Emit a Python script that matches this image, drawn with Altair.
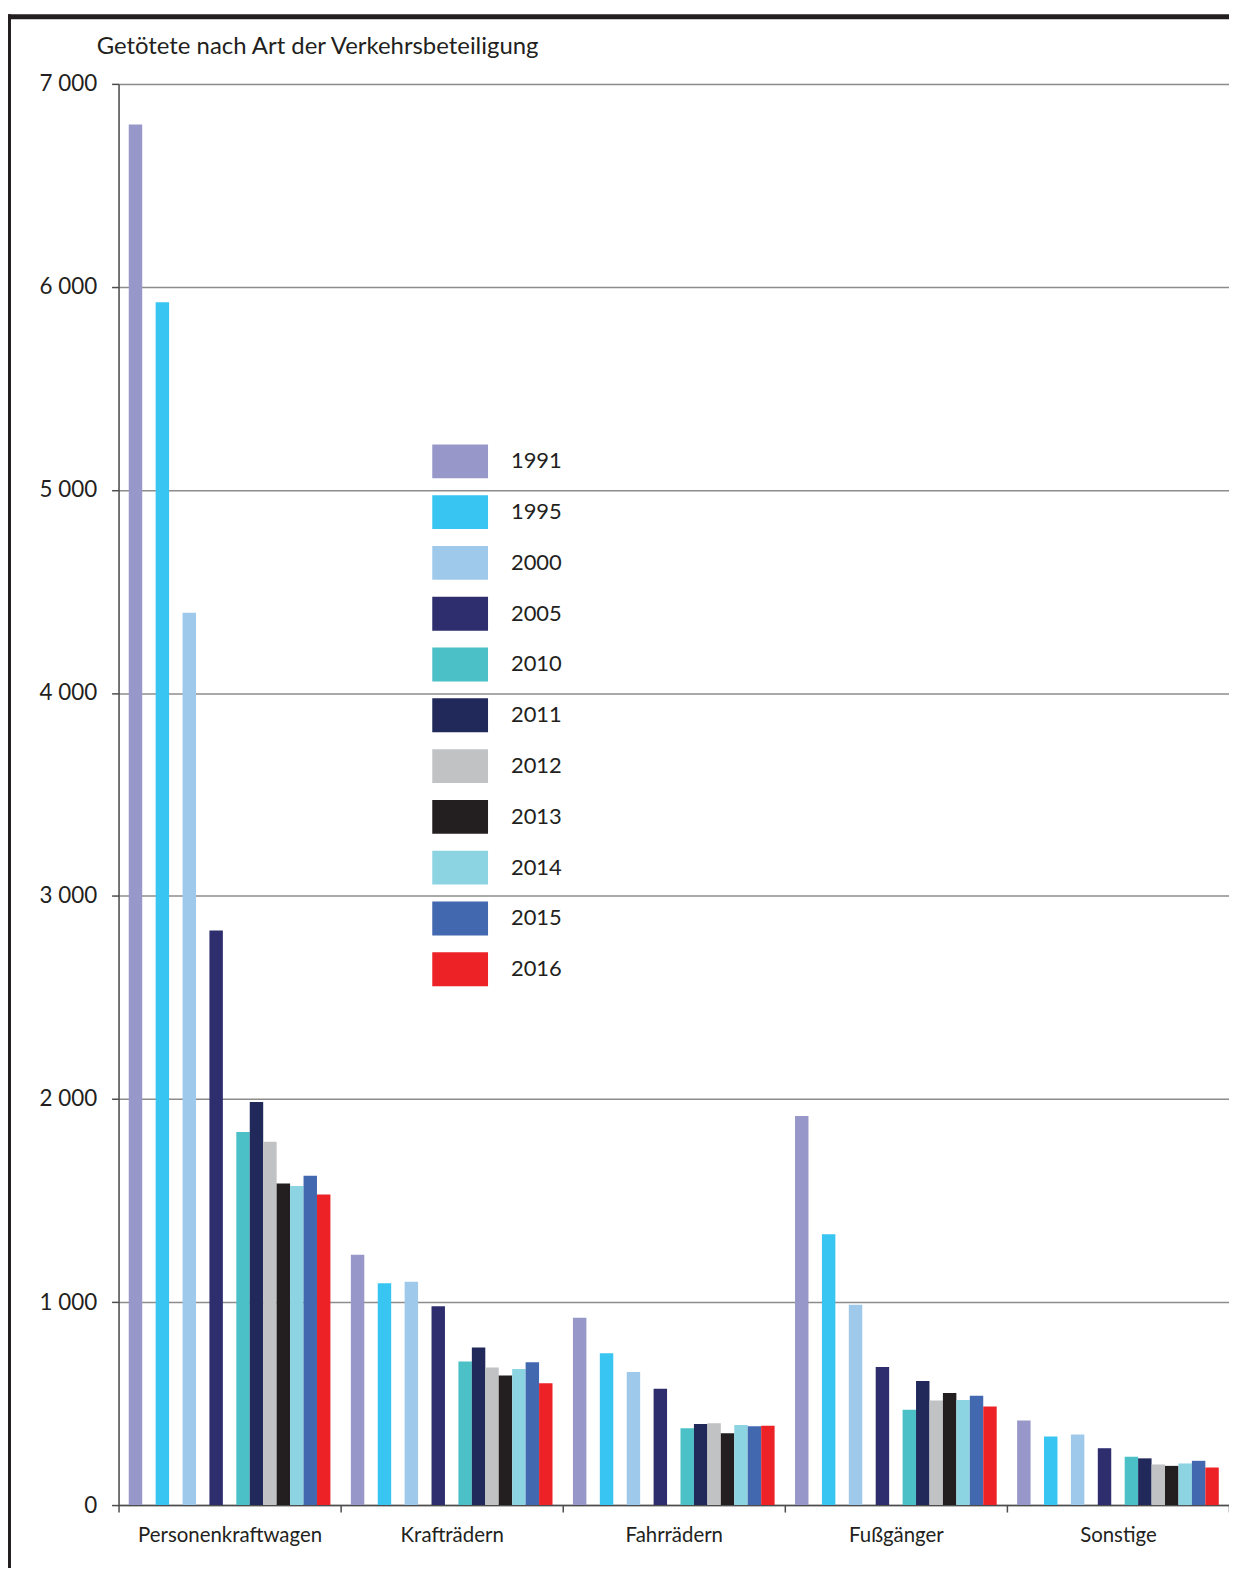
import altair as alt
import pandas as pd

categories = ["Personenkraftwagen", "Krafträdern", "Fahrrädern", "Fußgänger", "Sonstige"]
years = ["1991", "1995", "2000", "2005", "2010", "2011", "2012", "2013", "2014", "2015", "2016"]
slots = ["1991", "_a", "1995", "_b", "2000", "_c", "2005", "_d",
         "2010", "2011", "2012", "2013", "2014", "2015", "2016"]
colors = ["#9797c9", "#38c5f1", "#9fc9eb", "#2e2e6e", "#4bc0c6", "#21285a",
          "#c1c2c4", "#231f20", "#8dd4e3", "#4268b0", "#ec2227"]
title_text = "Getötete nach Art der Verkehrsbeteiligung"

pkw = [6800, 5925, 4395, 2830, 1837, 1985, 1789, 1584, 1572, 1622, 1530]
krad = [1233, 1092, 1100, 979, 707, 776, 677, 638, 670, 703, 600]
rad = [923, 748, 655, 573, 378, 399, 403, 354, 394, 388, 391]
fuss = [1916, 1334, 987, 680, 470, 611, 515, 552, 518, 538, 485]
sonst = [416, 338, 348, 280, 238, 230, 200, 193, 205, 218, 185]
series = [pkw, krad, rad, fuss, sonst]

rows = []
for cat, vals in zip(categories, series):
    for y, v in zip(years, vals):
        rows.append({"Kategorie": cat, "Jahr": y, "Wert": v})
df = pd.DataFrame(rows)

FONT = "Lato"
TXT = "#231f20"

bars = alt.Chart(df).mark_bar(strokeWidth=0).encode(
    x=alt.X("Kategorie:N", sort=categories, title=None,
            scale=alt.Scale(paddingInner=0, paddingOuter=0),
            axis=alt.Axis(labelAngle=0, tickBand="extent", tickSize=7, tickWidth=1.5,
                          tickColor="#4d4d4d", domainColor="#4d4d4d", domainWidth=1.5,
                          labelFontSize=20.5, labelPadding=14, labelColor=TXT,
                          labelFont=FONT, labelLimit=0, grid=False)),
    xOffset=alt.XOffset("Jahr:N", scale=alt.Scale(domain=slots, paddingInner=0, paddingOuter=0.76)),
    y=alt.Y("Wert:Q", title=None,
            scale=alt.Scale(domain=[0, 7000], nice=False),
            axis=alt.Axis(values=list(range(0, 7001, 1000)), grid=True,
                          gridColor="#8c8c8c", gridWidth=1.5,
                          tickSize=7, tickWidth=1.5, tickColor="#4d4d4d",
                          domainColor="#4d4d4d", domainWidth=1.5,
                          labelFontSize=22.5, labelPadding=15, labelColor=TXT, labelFont=FONT,
                          labelExpr="replace(format(datum.value, ','), ',', ' ')")),
    color=alt.Color("Jahr:N", scale=alt.Scale(domain=years, range=colors),
                    legend=alt.Legend(title=None, orient="none", legendX=315, legendY=351,
                                      symbolType="M-1,-0.607H1V0.607H-1Z", symbolSize=3136,
                                      symbolStrokeWidth=0, labelFontSize=22, labelFont=FONT,
                                      labelColor=TXT, labelOffset=23, rowPadding=6, padding=0)),
)

title_df = pd.DataFrame({"t": [title_text]})
title = alt.Chart(title_df).mark_text(align="left", baseline="alphabetic", fontSize=24,
                                      font=FONT, color=TXT).encode(
    text="t:N", x=alt.value(-22), y=alt.value(-30))

frame_left = alt.Chart(title_df).mark_rule(color=TXT, strokeWidth=3).encode(
    x=alt.value(-109.5), y=alt.value(-70), y2=alt.value(1500))
frame_top = alt.Chart(title_df).mark_rule(color=TXT, strokeWidth=5).encode(
    x=alt.value(-111), x2=alt.value(1118), y=alt.value(-67.5))

chart = alt.layer(bars, title, frame_left, frame_top).properties(
    width=1115, height=1427,
    autosize=alt.AutoSizeParams(type="none"),
    padding={"left": 111, "top": 73, "right": 0, "bottom": 60},
).configure_view(stroke="#8c8c8c", strokeWidth=1.5).configure(background="white")

chart.save("out.html", embed_options={"renderer": "svg", "actions": False})
